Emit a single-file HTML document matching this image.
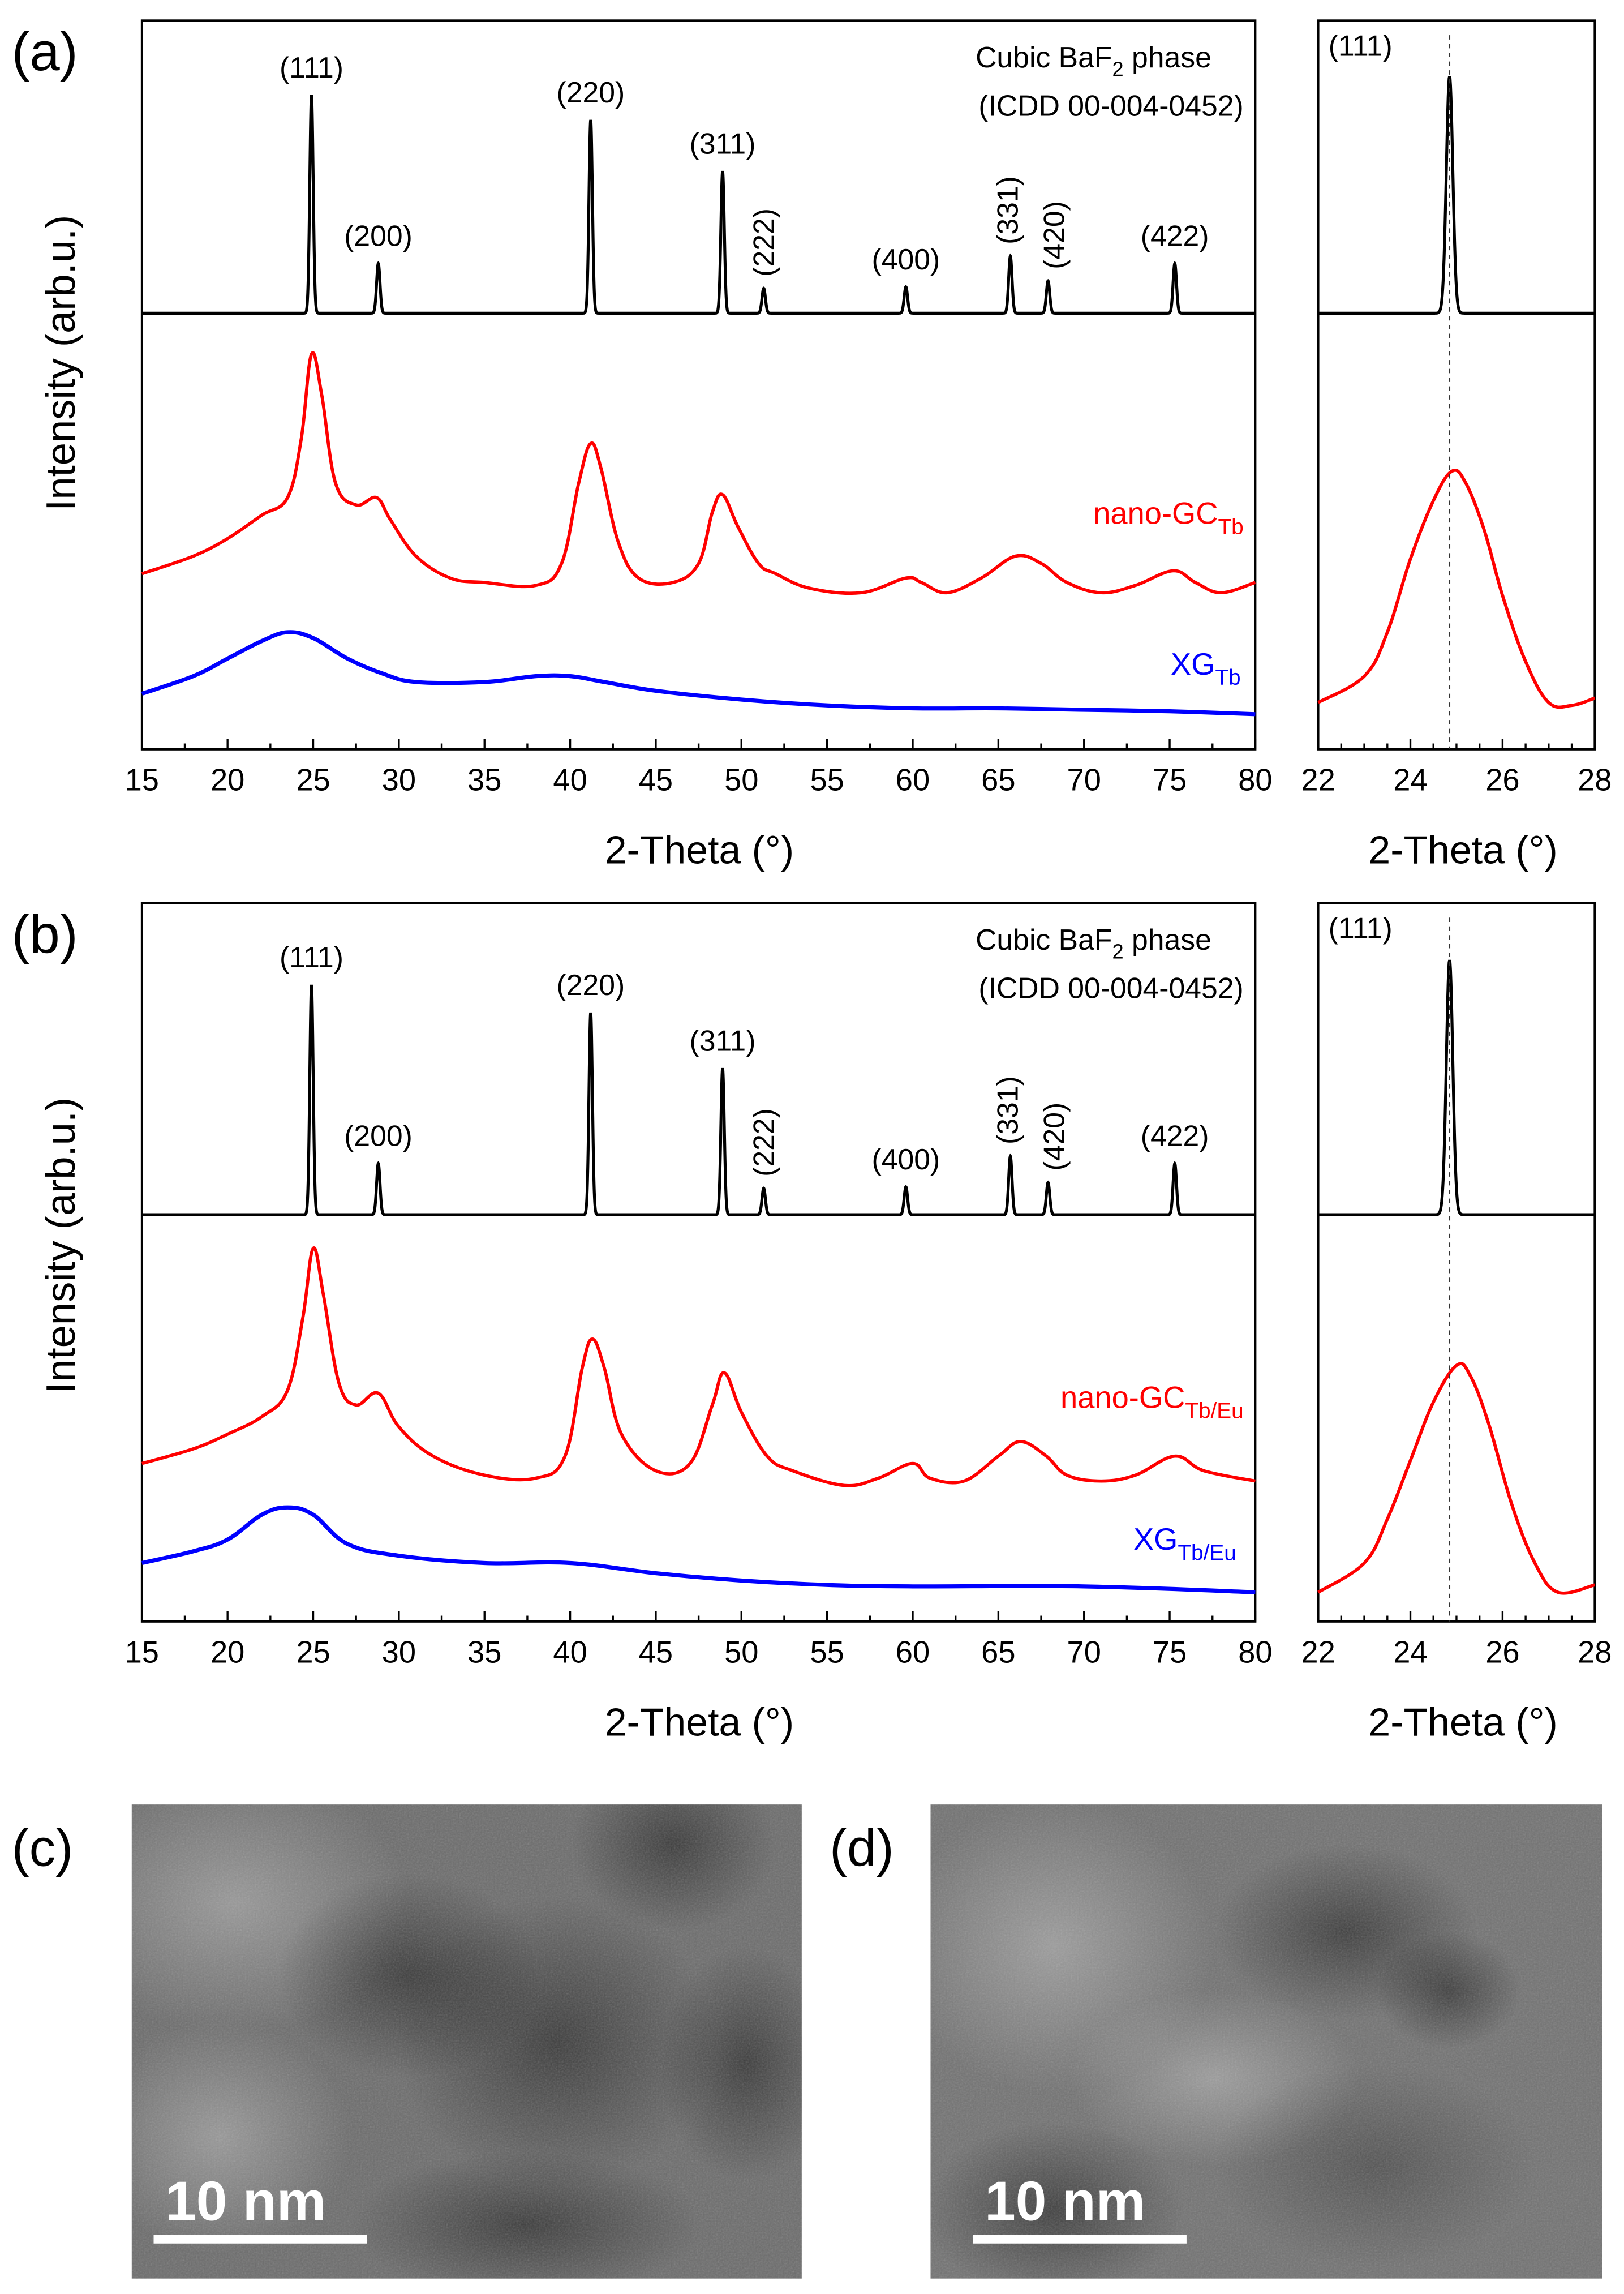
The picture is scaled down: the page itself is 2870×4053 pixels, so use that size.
<!DOCTYPE html>
<html><head><meta charset="utf-8">
<style>
html,body{margin:0;padding:0;background:#fff;}
svg{display:block;}
text{font-family:"Liberation Sans",sans-serif;}
</style></head>
<body>
<svg id="fig" width="2870" height="4053" viewBox="0 0 1110 1567.5" xmlns="http://www.w3.org/2000/svg">
<defs>
<clipPath id="clipC"><rect x="90" y="1233" width="458" height="324"/></clipPath>
<clipPath id="clipD"><rect x="636" y="1233" width="459" height="324"/></clipPath>
<filter id="grain" x="0" y="0" width="100%" height="100%">
<feTurbulence type="fractalNoise" baseFrequency="0.9" numOctaves="2" seed="3" result="n"/>
<feColorMatrix type="saturate" values="0" in="n"/>
</filter>
<radialGradient id="dark" cx="0.5" cy="0.5" r="0.5"><stop offset="0" stop-color="#000" stop-opacity="0.45"/><stop offset="1" stop-color="#000" stop-opacity="0"/></radialGradient>
<radialGradient id="light" cx="0.5" cy="0.5" r="0.5"><stop offset="0" stop-color="#fff" stop-opacity="0.3"/><stop offset="1" stop-color="#fff" stop-opacity="0"/></radialGradient>
</defs>
<g id="charts"></g>
<!-- TEM images -->
<g clip-path="url(#clipC)">
<rect x="90" y="1233" width="458" height="324" fill="#6c6c6c"/>
<ellipse cx="160" cy="1300" rx="120" ry="90" fill="url(#light)"/>
<ellipse cx="150" cy="1460" rx="90" ry="80" fill="url(#light)"/>
<ellipse cx="280" cy="1350" rx="90" ry="70" fill="url(#dark)"/>
<ellipse cx="380" cy="1395" rx="110" ry="100" fill="url(#dark)"/>
<ellipse cx="460" cy="1260" rx="70" ry="60" fill="url(#dark)"/>
<ellipse cx="510" cy="1410" rx="60" ry="80" fill="url(#dark)"/>
<ellipse cx="360" cy="1520" rx="120" ry="50" fill="url(#dark)"/>
<rect x="90" y="1233" width="458" height="324" filter="url(#grain)" opacity="0.25"/>
</g>
<rect x="105" y="1527" width="146" height="6" fill="#fff"/>
<text x="113" y="1517" font-size="38" font-weight="bold" fill="#fff">10 nm</text>
<g clip-path="url(#clipD)">
<rect x="636" y="1233" width="459" height="324" fill="#727272"/>
<ellipse cx="720" cy="1330" rx="110" ry="100" fill="url(#light)"/>
<ellipse cx="830" cy="1420" rx="100" ry="60" fill="url(#light)"/>
<ellipse cx="920" cy="1320" rx="90" ry="60" fill="url(#dark)"/>
<ellipse cx="990" cy="1360" rx="50" ry="40" fill="url(#dark)"/>
<ellipse cx="720" cy="1510" rx="90" ry="60" fill="url(#dark)"/>
<ellipse cx="940" cy="1480" rx="110" ry="70" fill="url(#dark)" opacity="0.6"/>
<rect x="636" y="1233" width="459" height="324" filter="url(#grain)" opacity="0.25"/>
</g>
<rect x="665" y="1527" width="146" height="6" fill="#fff"/>
<text x="673" y="1517" font-size="38" font-weight="bold" fill="#fff">10 nm</text>
<text x="8" y="1275" font-size="36">(c)</text>
<text x="567" y="1275" font-size="36">(d)</text>
</svg>
<script>
// ---------- data ----------
const peakPos = [24.9, 28.8, 41.2, 48.9, 51.3, 59.6, 65.7, 67.9, 75.3];
const peakLabels = ["(111)","(200)","(220)","(311)","(222)","(400)","(331)","(420)","(422)"];
const refBaseA = 298;
const refHeightsA = [149, 34, 132, 97, 17, 18, 39, 22, 34];
const refBaseB = 278;
const refHeightsB = [157, 35, 138, 100, 18, 19, 40, 22, 35];

const redAx = [15,18,20,22,23.5,24.3,24.9,25.5,26.3,27.5,28.7,29.5,31,33,35,38,39.5,40.5,41.2,41.8,42.8,44,46,47.5,48.3,48.9,49.8,51,52,54,57,59.6,60.5,62,64,66,67.5,69,71,73,75.2,76.5,78,80];
const redAy = [120,132,144,160,172,212,270,242,182,167,172,157,132,117,114,112,127,182,209,192,142,117,114,127,162,174,152,127,120,110,107,117,114,107,117,132,127,114,107,112,122,114,107,114];
const blueAx = [15,18,20,22,23.5,25,27,29,31,35,38,40,42,45,50,55,60,65,70,75,80];
const blueAy = [38,50,62,74,80,76,62,52,46,46,50,50,46,40,34,30,28,28,27,26,24];
const zoomRedAx = [22,23,23.5,24,24.5,24.9,25.2,25.6,26,26.5,27,27.5,28];
const zoomRedAy = [32,50,80,130,170,190,182,150,105,60,32,30,35];
const zoomRefPeakA = 162;

const redBx = [15,18,20,22,23.5,24.4,25,25.6,26.5,27.5,28.8,30,32,35,38,39.7,40.7,41.3,42,43,45,47,48.3,49,50,51.5,53,56,58,60,61,63,65,66.3,67.8,69,71,73,75.3,77,80];
const redBy = [108,118,128,140,158,208,255,223,163,148,156,133,113,100,98,113,173,193,173,128,103,108,148,170,143,113,103,93,98,108,98,96,113,123,113,100,96,100,113,103,96];
const blueBx = [15,18,20,22,23.5,25,27,30,35,40,45,50,55,60,70,80];
const blueBy = [40,48,56,73,78,73,53,45,40,40,33,28,25,24,24,20];
const zoomRedBx = [22,23,23.5,24,24.5,25,25.3,25.7,26.2,26.7,27.2,28];
const zoomRedBy = [20,40,70,110,150,175,168,135,80,40,20,25];
const zoomRefPeakB = 174;

const mainTicks = [15,20,25,30,35,40,45,50,55,60,65,70,75,80];
const zoomTicks = [22,24,26,28];

// ---------- drawing ----------
const NS = "http://www.w3.org/2000/svg";
const root = document.getElementById('charts');
function el(tag, attrs, parent, txt){
  const e = document.createElementNS(NS, tag);
  for (const k in attrs) e.setAttribute(k, attrs[k]);
  if (txt !== undefined) e.textContent = txt;
  (parent||root).appendChild(e);
  return e;
}
function lin(d0,d1,r0,r1){ return v => r0 + (v-d0)/(d1-d0)*(r1-r0); }
function pathFrom(xs, ys, sx, sy){
  return xs.map((x,i)=>(i?'L':'M')+sx(x).toFixed(2)+','+sy(ys[i]).toFixed(2)).join('');
}
function smoothPath(xs, ys, sx, sy){
  const P = xs.map((x,i)=>[sx(x), sy(ys[i])]);
  let d = 'M'+P[0][0].toFixed(2)+','+P[0][1].toFixed(2);
  const t = 0.18;
  for(let i=0;i<P.length-1;i++){
    const p0=P[Math.max(0,i-1)], p1=P[i], p2=P[i+1], p3=P[Math.min(P.length-1,i+2)];
    const c1=[p1[0]+(p2[0]-p0[0])*t, p1[1]+(p2[1]-p0[1])*t];
    const c2=[p2[0]-(p3[0]-p1[0])*t, p2[1]-(p3[1]-p1[1])*t];
    d += 'C'+c1[0].toFixed(2)+','+c1[1].toFixed(2)+' '+c2[0].toFixed(2)+','+c2[1].toFixed(2)+' '+p2[0].toFixed(2)+','+p2[1].toFixed(2);
  }
  return d;
}
function refCurve(x0,x1,base,pos,hts,sig){
  const xs=[], ys=[];
  for(let x=x0;x<=x1+1e-9;x+=0.01){
    let y=base;
    for(let i=0;i<pos.length;i++){ const d=(x-pos[i])/sig; y+=hts[i]*Math.exp(-0.5*d*d); }
    xs.push(x); ys.push(y);
  }
  return [xs,ys];
}

function panel(cfg){
  const g = el('g',{});
  
  
  const top=cfg.top, bot=cfg.bot, H=bot-top;
  const sy = lin(0, H, bot, top);
  const sx = lin(15, 80, 97, 858);
  const sz = lin(22, 28, 901, 1090);
  [[97,858,'main-plot-frame'],[901,1090,'zoom-plot-frame']].forEach(f=>{
    const r = el('rect',{x:f[0],y:top,width:f[1]-f[0],height:H,fill:'none',stroke:'#000','stroke-width':1.5},g);
    
    
  });
  for(let v=15; v<=80; v+=2.5){
    const major = (v%5===0);
    const t = el('line',{x1:sx(v),x2:sx(v),y1:bot,y2:bot-(major?7:4),stroke:'#000','stroke-width':1.3},g);
    
    
  }
  mainTicks.forEach(v=>{
    const t = el('text',{x:sx(v),y:bot+28,'font-size':21,'text-anchor':'middle'},g,String(v));
    
    
  });
  for(let v=22; v<=28; v+=0.5){
    const major = (v%2===0);
    const t = el('line',{x1:sz(v),x2:sz(v),y1:bot,y2:bot-(major?7:4),stroke:'#000','stroke-width':1.3},g);
    
    
  }
  zoomTicks.forEach(v=>{
    const t = el('text',{x:sz(v),y:bot+28,'font-size':21,'text-anchor':'middle'},g,String(v));
    
    
  });
  let t;
  t = el('text',{x:478,y:bot+78,'font-size':27,'text-anchor':'middle'},g,'2-Theta (°)');
  
  
  t = el('text',{x:1000,y:bot+78,'font-size':27,'text-anchor':'middle'},g,'2-Theta (°)');
  
  
  t = el('text',{x:0,y:0,'font-size':28,'text-anchor':'middle',transform:`translate(51,${top+234}) rotate(-90)`},g,'Intensity (arb.u.)');
  
  
  t = el('text',{x:8,y:top+34,'font-size':37},g,cfg.label);
  
  

  const rc = refCurve(15,80,cfg.refBase,peakPos,cfg.refH,0.1);
  let p = el('path',{d:pathFrom(rc[0],rc[1],sx,sy),fill:'none',stroke:'#000','stroke-width':2},g);
  
  
  p = el('path',{d:smoothPath(cfg.redX,cfg.redY,sx,sy),fill:'none',stroke:'#ff0000','stroke-width':2.2,'stroke-linejoin':'round'},g);
  
  
  p = el('path',{d:smoothPath(cfg.blueX,cfg.blueY,sx,sy),fill:'none',stroke:'#0000ff','stroke-width':2.8,'stroke-linejoin':'round'},g);
  
  
  peakLabels.forEach((lab,i)=>{
    const x = sx(peakPos[i]), yTop = sy(cfg.refBase+cfg.refH[i]);
    let tt;
    if (lab==='(222)' || lab==='(331)' || lab==='(420)'){
      const dx = lab==='(420)'?4:(lab==='(331)'?-2:0);
      tt = el('text',{x:0,y:0,'font-size':20,transform:`translate(${x+7+dx},${yTop-8}) rotate(-90)`},g,lab);
    } else {
      tt = el('text',{x:x,y:yTop-12,'font-size':20,'text-anchor':'middle'},g,lab);
    }
    
    
  });
  t = el('text',{x:828,y:top+32,'font-size':20,'text-anchor':'end'},g);
  
  
  t.innerHTML = 'Cubic BaF<tspan font-size="14" dy="6">2</tspan><tspan dy="-6"> phase</tspan>';
  t = el('text',{x:850,y:top+65,'font-size':20,'text-anchor':'end'},g,'(ICDD 00-004-0452)');
  
  
  t = el('text',{x:cfg.redLabX,y:cfg.redLabY,'font-size':21,fill:'#ff0000','text-anchor':'end'},g);
  
  
  t.innerHTML = 'nano-GC<tspan font-size="15" dy="7">'+cfg.sub+'</tspan>';
  t = el('text',{x:cfg.blueLabX,y:cfg.blueLabY,'font-size':21,fill:'#0000ff','text-anchor':'end'},g);
  
  
  t.innerHTML = 'XG<tspan font-size="15" dy="7">'+cfg.sub+'</tspan>';

  const zc = refCurve(22,28,cfg.refBase,[24.85],[cfg.zoomPeak],0.07);
  p = el('path',{d:pathFrom(zc[0],zc[1],sz,sy),fill:'none',stroke:'#000','stroke-width':2},g);
  
  
  p = el('path',{d:smoothPath(cfg.zRedX,cfg.zRedY,sz,sy),fill:'none',stroke:'#ff0000','stroke-width':2.2,'stroke-linejoin':'round'},g);
  
  
  p = el('line',{x1:sz(24.85),x2:sz(24.85),y1:top+10,y2:bot,stroke:'#333','stroke-width':1,'stroke-dasharray':'3,3'},g);
  
  
  t = el('text',{x:908,y:top+24,'font-size':20},g,'(111)');
  
  
}

panel({name:'panel-a',label:'(a)',top:14,bot:512,refBase:refBaseA,refH:refHeightsA,
  redX:redAx,redY:redAy,blueX:blueAx,blueY:blueAy,zRedX:zoomRedAx,zRedY:zoomRedAy,zoomPeak:zoomRefPeakA,
  sub:'Tb',redLabX:850,redLabY:358,blueLabX:848,blueLabY:461});
panel({name:'panel-b',label:'(b)',top:617,bot:1108,refBase:refBaseB,refH:refHeightsB,
  redX:redBx,redY:redBy,blueX:blueBx,blueY:blueBy,zRedX:zoomRedBx,zRedY:zoomRedBy,zoomPeak:zoomRefPeakB,
  sub:'Tb/Eu',redLabX:850,redLabY:962,blueLabX:845,blueLabY:1059});
</script>
</body></html>
